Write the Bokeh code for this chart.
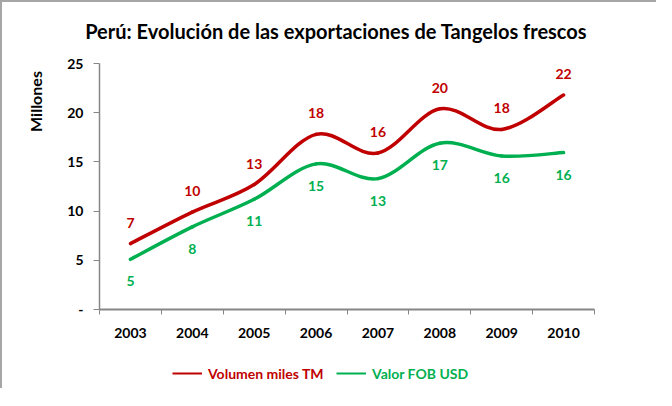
import numpy as np
from bokeh.plotting import figure
from bokeh.models import Range1d, FixedTicker, Legend, LegendItem, Label, LinearAxis, ColumnDataSource
from bokeh.embed import file_html
from bokeh.resources import INLINE
from bokeh.core.properties import value

# ---- data ----
years = ["2003", "2004", "2005", "2006", "2007", "2008", "2009", "2010"]
volumen = [6.7, 9.9, 12.7, 17.8, 15.9, 20.4, 18.3, 21.8]
valor = [5.1, 8.4, 11.2, 14.8, 13.3, 16.9, 15.6, 15.95]
y_ticks = [0, 5, 10, 15, 20, 25]
y_max = 25

RED = "#C00000"
GREEN = "#00B050"
FONT = "Lato"

n = len(years)
x_pos = [i + 0.5 for i in range(n)]

# ---- layout (figure pixels; the whole figure is the drawing frame) ----
W, H = 656, 388
AX_L, AX_R = 97, 592      # plot-area left/right edge in px
AX_T, AX_B = 61, 307      # plot-area top/bottom edge in px (from top)
ux = (AX_R - AX_L) / n
uy = (AX_B - AX_T) / y_max
x_range = Range1d(-AX_L / ux, (W - AX_L) / ux)
y_range = Range1d(-(H - AX_B) / uy, y_max + AX_T / uy)


def bezier_source(xs, ys):
    P = np.column_stack([xs, ys]).astype(float)
    m = len(P)
    d = dict(x0=[], y0=[], x1=[], y1=[], cx0=[], cy0=[], cx1=[], cy1=[])
    for i in range(m - 1):
        p0 = P[i - 1] if i > 0 else P[i]
        p1 = P[i]
        p2 = P[i + 1]
        p3 = P[i + 2] if i + 2 < m else P[i + 1]
        c1 = p1 + (p2 - p0) / 6.0
        c2 = p2 - (p3 - p1) / 6.0
        d["x0"].append(p1[0]); d["y0"].append(p1[1])
        d["x1"].append(p2[0]); d["y1"].append(p2[1])
        d["cx0"].append(c1[0]); d["cy0"].append(c1[1])
        d["cx1"].append(c2[0]); d["cy1"].append(c2[1])
    return ColumnDataSource(d)


p = figure(width=W, height=H, output_backend="svg", toolbar_location=None,
           x_range=x_range, y_range=y_range, x_axis_location=None, y_axis_location=None,
           min_border_left=0, min_border_right=0, min_border_top=0, min_border_bottom=0)
p.styles = {"border-left": "2px solid #a6a6a6", "border-top": "2px solid #a6a6a6"}
p.outline_line_color = None
p.xgrid.visible = False
p.ygrid.visible = False
p.background_fill_color = "white"
p.border_fill_color = "white"

# axes, fixed at the plot-area edges
AX = "#868686"
yaxis = LinearAxis(fixed_location=0, bounds=(0, y_max), ticker=FixedTicker(ticks=y_ticks),
                   major_label_overrides={0: "-"},
                   axis_line_color=AX, axis_line_width=1.5, major_tick_line_color=AX,
                   major_tick_out=6, major_tick_in=0, minor_tick_line_color=None,
                   major_label_standoff=10, major_label_text_font=FONT,
                   major_label_text_font_size="14px", major_label_text_font_style="bold",
                   major_label_text_color="black")
p.add_layout(yaxis, "left")

xaxis = LinearAxis(fixed_location=0, bounds=(0, n),
                   ticker=FixedTicker(ticks=x_pos, minor_ticks=list(range(n + 1))),
                   major_label_overrides={x: y for x, y in zip(x_pos, years)},
                   axis_line_color=AX, axis_line_width=2, major_tick_line_color=None,
                   minor_tick_line_color=AX, minor_tick_out=5, minor_tick_in=0,
                   major_label_standoff=12, major_label_text_font=FONT,
                   major_label_text_font_size="14px", major_label_text_font_style="bold",
                   major_label_text_color="black")
p.add_layout(xaxis, "below")

# curves
for vals, col in ((volumen, RED), (valor, GREEN)):
    p.bezier("x0", "y0", "x1", "y1", "cx0", "cy0", "cx1", "cy1", source=bezier_source(x_pos, vals),
             line_color=col, line_width=3.5, line_cap="round")

# data labels
vol_src = ColumnDataSource(dict(x=x_pos, y=volumen, t=[f"{v:.0f}" for v in volumen]))
val_src = ColumnDataSource(dict(x=x_pos, y=valor, t=[f"{v:.0f}" for v in valor]))
p.text("x", "y", text="t", source=vol_src, y_offset=-21, text_align="center", text_baseline="middle",
       text_font=value(FONT), text_font_size="14px", text_font_style="bold", text_color=RED)
p.text("x", "y", text="t", source=val_src, y_offset=22, text_align="center", text_baseline="middle",
       text_font=value(FONT), text_font_size="14px", text_font_style="bold", text_color=GREEN)

# title and y-axis title
p.add_layout(Label(x=341, y=H - 28, x_units="screen", y_units="screen",
                   text="Perú:  Evolución  de las exportaciones de Tangelos  frescos",
                   text_align="center", text_baseline="middle", text_font=FONT,
                   text_font_size="20px", text_font_style="bold", text_color="black"))
p.add_layout(Label(x=33, y=H - 99, x_units="screen", y_units="screen", text="Millones",
                   angle=np.pi / 2, text_align="center", text_baseline="middle", text_font=FONT,
                   text_font_size="16px", text_font_style="bold", text_color="black"))

# legend glyph sources: hidden line renderers of each series (legend shows their style)
r_vol = p.line(x=x_pos, y=volumen, line_color=RED, line_width=2, visible=False)
r_val = p.line(x=x_pos, y=valor, line_color=GREEN, line_width=2, visible=False)
for r, lab, col, lx in ((r_vol, "Volumen miles TM", RED, 170), (r_val, "Valor FOB USD", GREEN, 334)):
    lg = Legend(items=[LegendItem(label=lab, renderers=[r], index=0)], location=(lx, H - 373 - 8),
                label_text_font=FONT, label_text_font_size="14px", label_text_font_style="bold",
                label_text_color=col, glyph_width=30, glyph_height=20, label_standoff=6,
                padding=0, margin=0, border_line_color=None, background_fill_alpha=0,
                click_policy="none")
    p.add_layout(lg, "center")

open("out.html", "w").write(file_html(p, INLINE))
